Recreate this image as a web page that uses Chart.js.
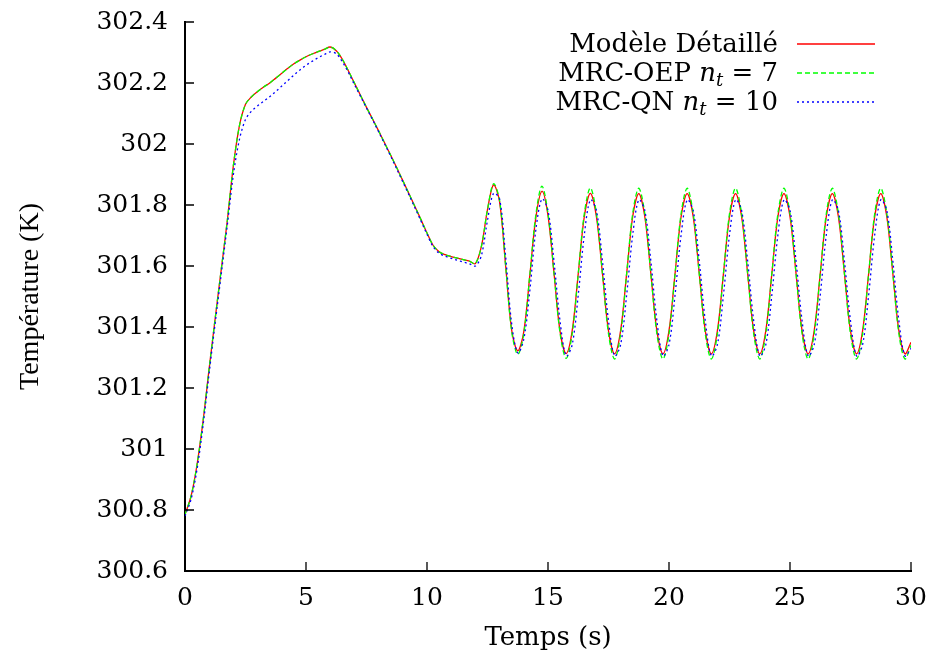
<!DOCTYPE html>
<html>
<head>
<meta charset="utf-8">
<script src="https://cdn.jsdelivr.net/npm/chart.js@4.4.1/dist/chart.umd.min.js"></script>
<style>
  html, body { margin: 0; padding: 0; background: #fff; }
</style>
</head>
<body>
<canvas id="tempChart" width="934" height="661"></canvas>
<script>
// time grid (s)
const times = [
    0, 0.25, 0.5, 0.75, 1, 1.25, 1.5, 1.75, 2, 2.25, 2.5, 2.75,
    3, 3.25, 3.5, 3.75, 4, 4.25, 4.5, 4.75, 5, 5.25, 5.5, 5.75,
    6, 6.25, 6.5, 6.75, 7, 7.25, 7.5, 7.75, 8, 8.25, 8.5, 8.75,
    9, 9.25, 9.5, 9.75, 10, 10.25, 10.5, 10.75, 11, 11.25, 11.5, 11.75,
    12, 12.25, 12.5, 12.75, 13, 13.25, 13.5, 13.75, 14, 14.25, 14.5, 14.75,
    15, 15.25, 15.5, 15.75, 16, 16.25, 16.5, 16.75, 17, 17.25, 17.5, 17.75,
    18, 18.25, 18.5, 18.75, 19, 19.25, 19.5, 19.75, 20, 20.25, 20.5, 20.75,
    21, 21.25, 21.5, 21.75, 22, 22.25, 22.5, 22.75, 23, 23.25, 23.5, 23.75,
    24, 24.25, 24.5, 24.75, 25, 25.25, 25.5, 25.75, 26, 26.25, 26.5, 26.75,
    27, 27.25, 27.5, 27.75, 28, 28.25, 28.5, 28.75, 29, 29.25, 29.5, 29.75,
    30,
];

// Modèle Détaillé
const detaille = [
    300.785, 300.845, 300.95, 301.094, 301.265, 301.43, 301.59, 301.75, 301.93, 302.06, 302.13, 302.155,
    302.172, 302.187, 302.2, 302.216, 302.232, 302.248, 302.263, 302.275, 302.286, 302.295, 302.303, 302.31,
    302.318, 302.306, 302.278, 302.24, 302.2, 302.16, 302.12, 302.082, 302.043, 302.003, 301.963, 301.922,
    301.88, 301.838, 301.795, 301.752, 301.708, 301.668, 301.647, 301.637, 301.631, 301.626, 301.621, 301.616,
    301.608, 301.665, 301.785, 301.866, 301.81, 301.6, 301.39, 301.322, 301.385, 301.57, 301.76, 301.845,
    301.765, 301.575, 301.385, 301.313, 301.388, 301.575, 301.762, 301.838, 301.762, 301.575, 301.387, 301.312,
    301.388, 301.575, 301.762, 301.837, 301.762, 301.575, 301.387, 301.312, 301.388, 301.575, 301.762, 301.837,
    301.762, 301.575, 301.387, 301.312, 301.388, 301.575, 301.762, 301.837, 301.762, 301.575, 301.387, 301.312,
    301.388, 301.575, 301.762, 301.837, 301.762, 301.575, 301.387, 301.312, 301.388, 301.575, 301.762, 301.837,
    301.762, 301.575, 301.387, 301.312, 301.388, 301.575, 301.762, 301.837, 301.762, 301.575, 301.387, 301.312,
    301.35,
];

// MRC-OEP n_t = 7
const oep = [
    300.785, 300.845, 300.95, 301.094, 301.265, 301.43, 301.59, 301.75, 301.93, 302.06, 302.13, 302.155,
    302.172, 302.187, 302.2, 302.216, 302.232, 302.248, 302.263, 302.275, 302.286, 302.295, 302.303, 302.31,
    302.318, 302.306, 302.278, 302.24, 302.2, 302.16, 302.12, 302.082, 302.043, 302.003, 301.963, 301.922,
    301.88, 301.838, 301.795, 301.752, 301.708, 301.668, 301.647, 301.637, 301.631, 301.626, 301.621, 301.616,
    301.608, 301.665, 301.785, 301.87, 301.815, 301.6, 301.385, 301.31, 301.378, 301.572, 301.77, 301.862,
    301.772, 301.575, 301.378, 301.297, 301.377, 301.575, 301.772, 301.856, 301.772, 301.575, 301.377, 301.295,
    301.377, 301.575, 301.772, 301.855, 301.772, 301.575, 301.377, 301.295, 301.377, 301.575, 301.772, 301.855,
    301.772, 301.575, 301.377, 301.295, 301.377, 301.575, 301.772, 301.855, 301.772, 301.575, 301.377, 301.295,
    301.377, 301.575, 301.772, 301.855, 301.772, 301.575, 301.377, 301.295, 301.377, 301.575, 301.772, 301.855,
    301.772, 301.575, 301.377, 301.295, 301.377, 301.575, 301.772, 301.855, 301.772, 301.575, 301.377, 301.295,
    301.34,
];

// MRC-QN n_t = 10
const qn = [
    300.78, 300.835, 300.935, 301.08, 301.25, 301.415, 301.575, 301.735, 301.9, 302.015, 302.08, 302.108,
    302.125, 302.14, 302.155, 302.172, 302.19, 302.208, 302.226, 302.243, 302.258, 302.271, 302.283, 302.293,
    302.302, 302.296, 302.27, 302.235, 302.195, 302.157, 302.118, 302.08, 302.04, 302.0, 301.96, 301.918,
    301.876, 301.834, 301.791, 301.748, 301.704, 301.664, 301.642, 301.632, 301.625, 301.619, 301.613, 301.607,
    301.6, 301.635, 301.75, 301.838, 301.82, 301.63, 301.41, 301.315, 301.36, 301.52, 301.72, 301.82,
    301.782, 301.614, 301.418, 301.305, 301.342, 301.505, 301.702, 301.817, 301.782, 301.616, 301.42, 301.305,
    301.342, 301.505, 301.702, 301.817, 301.782, 301.616, 301.42, 301.305, 301.342, 301.505, 301.702, 301.817,
    301.782, 301.616, 301.42, 301.305, 301.342, 301.505, 301.702, 301.817, 301.782, 301.616, 301.42, 301.305,
    301.342, 301.505, 301.702, 301.817, 301.782, 301.616, 301.42, 301.305, 301.342, 301.505, 301.702, 301.817,
    301.782, 301.616, 301.42, 301.305, 301.342, 301.505, 301.702, 301.817, 301.782, 301.616, 301.42, 301.305,
    301.33,
];

const seriesLabels = ['Modèle Détaillé', 'MRC-OEP nₜ = 7', 'MRC-QN nₜ = 10'];

// legend text split into roman / italic / subscript pieces
const legendParts = [
    [['Modèle Détaillé', 'r']],
    [['MRC-OEP ', 'r'], ['n', 'i'], ['t', 's'], [' = 7', 'r']],
    [['MRC-QN ', 'r'], ['n', 'i'], ['t', 's'], [' = 10', 'r']],
];

const serif = '"DejaVu Serif", serif';

const toPoints = (vals) => vals.map((v, i) => ({ x: times[i], y: v }));

// inward ticks + gnuplot-like legend
const gnuplotDecor = {
    id: 'gnuplotDecor',
    afterDraw(chart) {
        const { ctx, chartArea: area, scales } = chart;
        ctx.save();
        ctx.strokeStyle = '#000';
        ctx.lineWidth = 1.3;
        ctx.setLineDash([]);
        ctx.beginPath();
        scales.x.ticks.forEach((t) => {
            const px = scales.x.getPixelForValue(t.value);
            ctx.moveTo(px, area.bottom);
            ctx.lineTo(px, area.bottom - 9);
        });
        scales.y.ticks.forEach((t) => {
            const py = scales.y.getPixelForValue(t.value);
            ctx.moveTo(area.left, py);
            ctx.lineTo(area.left + 9, py);
        });
        ctx.stroke();

        const textRight = 778;
        const baselines = [52, 81, 110];
        ctx.fillStyle = '#000';
        ctx.textBaseline = 'alphabetic';
        ctx.textAlign = 'left';
        const fontFor = (kind) => {
            if (kind === 'i') return 'italic 26px ' + serif;
            if (kind === 's') return 'italic 18px ' + serif;
            return '26px ' + serif;
        };
        legendParts.forEach((parts, row) => {
            let total = 0;
            parts.forEach(([txt, kind]) => {
                ctx.font = fontFor(kind);
                total += ctx.measureText(txt).width;
            });
            let x = textRight - total;
            parts.forEach(([txt, kind]) => {
                ctx.font = fontFor(kind);
                ctx.fillText(txt, x, baselines[row] + (kind === 's' ? 5 : 0));
                x += ctx.measureText(txt).width;
            });
            const ds = chart.data.datasets[row];
            ctx.strokeStyle = ds.borderColor;
            ctx.lineWidth = ds.borderWidth;
            ctx.setLineDash(ds.borderDash || []);
            ctx.beginPath();
            ctx.moveTo(797, baselines[row] - 8);
            ctx.lineTo(875, baselines[row] - 8);
            ctx.stroke();
        });
        ctx.restore();
    },
};

const tempChart = new Chart(document.querySelector('#tempChart'), {
    type: 'line',
    data: {
        datasets: [
            {
                label: seriesLabels[0],
                data: toPoints(detaille),
                borderColor: '#ff0000',
                borderWidth: 1.3,
                order: 3,
            },
            {
                label: seriesLabels[1],
                data: toPoints(oep),
                borderColor: '#00ff00',
                borderWidth: 1.3,
                borderDash: [5, 3],
                order: 2,
            },
            {
                label: seriesLabels[2],
                data: toPoints(qn),
                borderColor: '#0000ff',
                borderWidth: 1.3,
                borderDash: [2, 3],
                order: 1,
            },
        ],
    },
    options: {
        responsive: false,
        animation: false,
        events: [],
        elements: {
            point: { radius: 0 },
            line: { tension: 0.33, fill: false },
        },
        layout: {
            padding: { top: 22, right: 23, left: 0, bottom: 0 },
        },
        plugins: {
            legend: { display: false },
            tooltip: { enabled: false },
        },
        scales: {
            x: {
                type: 'linear',
                min: 0,
                max: 30,
                grid: { display: false, drawTicks: false },
                border: { display: true, color: '#000', width: 2 },
                ticks: {
                    stepSize: 5,
                    color: '#000',
                    padding: 12,
                    maxRotation: 0,
                    font: { family: serif, size: 25 },
                },
                title: {
                    display: true,
                    text: 'Temps (s)',
                    color: '#000',
                    font: { family: serif, size: 26 },
                    padding: { top: 0, bottom: 7 },
                },
                afterFit(scale) {
                    scale.height = 90;
                    scale.paddingLeft = 0;
                    scale.paddingRight = 0;
                },
            },
            y: {
                min: 300.6,
                max: 302.4,
                grid: { display: false, drawTicks: false },
                border: { display: true, color: '#000', width: 2 },
                ticks: {
                    stepSize: 0.2,
                    color: '#000',
                    padding: 17,
                    font: { family: serif, size: 25 },
                    callback: (v) => String(Number(v.toFixed(1))),
                },
                title: {
                    display: true,
                    text: 'Température (K)',
                    color: '#000',
                    font: { family: '"Liberation Serif", serif', size: 28 },
                    padding: { top: 14, bottom: 0 },
                },
                afterFit(scale) {
                    scale.width = 185;
                    scale.paddingTop = 0;
                    scale.paddingBottom = 0;
                },
            },
        },
    },
    plugins: [gnuplotDecor],
});
</script>
</body>
</html>
